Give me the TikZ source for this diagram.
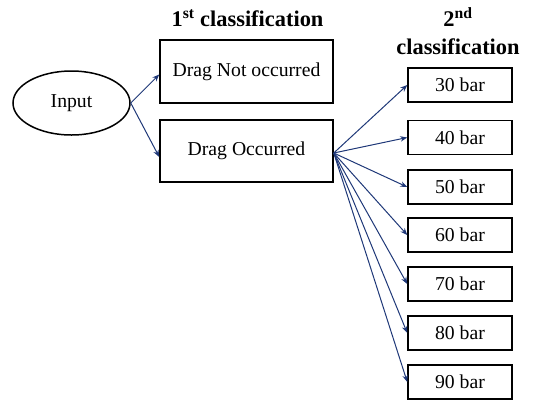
\documentclass[tikz,border=0pt]{standalone}
\usepackage{fontspec}
\setmainfont{Liberation Serif}
\usetikzlibrary{arrows.meta,shapes.geometric}
\definecolor{arrowblue}{RGB}{31,56,120}
\tikzset{
  box/.style={draw=black,line width=1.5pt,rectangle,inner sep=0pt,font=\fontsize{19.7}{22}\selectfont},
  bigbox/.style={box,minimum width=173pt,minimum height=62pt},
  barbox/.style={box,minimum width=104pt,minimum height=34pt},
  title/.style={anchor=base,inner sep=0pt,font=\fontsize{22.4}{26}\selectfont\bfseries},
  conn/.style={draw=arrowblue,line width=1pt,-{Stealth[length=7pt,width=5.5pt]}}
}
\begin{document}
\begin{tikzpicture}[x=1pt,y=-1pt]
\useasboundingbox (0,0) rectangle (533,400);
\node[title] (t1) at (247.5,26.5) {1\textsuperscript{st} classification};
\node[title] (t2a) at (458,26.5) {2\textsuperscript{nd}};
\node[title] (t2b) at (458,54.5) {classification};
\node[draw=black,line width=1.5pt,ellipse,minimum width=117pt,minimum height=64pt,inner sep=0pt,font=\fontsize{19.7}{22}\selectfont] (in) at (71.5,103) {Input};
\node[bigbox,minimum height=63pt] (dn) at (246.5,71.5) {Drag Not occurred};
\node[bigbox] (dy) at (246.5,151) {Drag Occurred};
\node[barbox] (b30) at (460,85) {30 bar};
\node[barbox] (b40) at (460,137.5) {40 bar};
\node[barbox] (b50) at (460,187) {50 bar};
\node[barbox] (b60) at (460,235) {60 bar};
\node[barbox] (b70) at (460,284) {70 bar};
\node[barbox] (b80) at (460,333) {80 bar};
\node[barbox] (b90) at (460,382) {90 bar};
\draw[conn] (in.east) -- ([yshift=-3pt]dn.west);
\draw[conn] (in.east) -- ([yshift=-6pt]dy.west);
\foreach \b in {b30,b40,b50,b60,b70,b80,b90}
  \draw[conn] ([yshift=-2pt]dy.east) -- (\b.west);
\end{tikzpicture}
\end{document}
